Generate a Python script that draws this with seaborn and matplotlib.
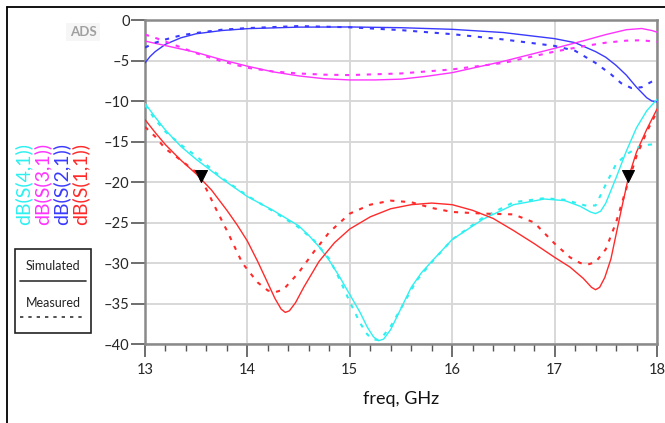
import matplotlib
matplotlib.use("Agg")
import matplotlib.pyplot as plt
from matplotlib.lines import Line2D
from matplotlib.patches import Rectangle
from matplotlib.ticker import MultipleLocator
import seaborn as sns
import pandas as pd

# ---------------- data ----------------
f_s21_sim = [13.0, 13.05, 13.1, 13.2, 13.35, 13.5, 13.75, 14.0, 14.5, 15.0, 15.5, 16.0, 16.5, 17.0,
             17.2, 17.4, 17.5, 17.6, 17.7, 17.8, 17.9, 17.95, 18.0]
s21_sim = [-5.3, -4.5, -3.9, -3.0, -2.2, -1.7, -1.3, -1.07, -0.88, -0.86, -0.95, -1.15, -1.55, -2.3,
           -2.8, -3.9, -4.6, -5.6, -6.8, -8.3, -9.6, -10.0, -10.1]

f_s21_meas = [13.0, 13.1, 13.2, 13.35, 13.5, 13.75, 14.0, 14.5, 15.0, 15.5, 16.0, 16.5, 17.0,
              17.2, 17.4, 17.55, 17.65, 17.75, 17.85, 17.95, 18.0]
s21_meas = [-3.4, -2.8, -2.4, -1.9, -1.6, -1.2, -1.0, -0.75, -0.9, -1.25, -1.75, -2.4, -3.2,
            -3.8, -5.3, -6.7, -7.8, -8.4, -8.3, -7.6, -7.3]

f_s31_sim = [13.0, 13.25, 13.5, 13.75, 14.0, 14.25, 14.5, 14.75, 15.0, 15.25, 15.5, 15.75, 16.0,
             16.5, 17.0, 17.3, 17.5, 17.7, 17.85, 17.95, 18.0]
s31_sim = [-2.6, -3.3, -4.0, -4.9, -5.7, -6.4, -6.9, -7.25, -7.4, -7.4, -7.3, -6.95, -6.5,
           -5.1, -3.5, -2.5, -1.8, -1.2, -1.05, -1.3, -1.5]

f_s31_meas = [13.0, 13.1, 13.25, 13.5, 13.75, 14.0, 14.25, 14.5, 14.75, 15.0, 15.5, 16.0, 16.5,
              17.0, 17.3, 17.5, 17.7, 17.85, 18.0]
s31_meas = [-1.8, -2.2, -2.9, -4.1, -5.1, -5.9, -6.35, -6.6, -6.75, -6.8, -6.6, -6.1, -5.3,
            -3.9, -3.2, -2.8, -2.55, -2.5, -2.7]

f_s41_sim = [13.0, 13.1, 13.2, 13.35, 13.5, 13.75, 14.0, 14.25, 14.5, 14.6, 14.7, 14.8, 14.9, 15.0,
             15.1, 15.17, 15.23, 15.28, 15.33, 15.4, 15.5, 15.6, 15.7, 15.8, 16.0, 16.3, 16.6,
             16.9, 17.1, 17.25, 17.35, 17.4, 17.45, 17.5, 17.6, 17.7, 17.8, 17.9, 18.0]
s41_sim = [-10.3, -12.0, -13.6, -15.6, -17.2, -19.6, -21.8, -23.5, -25.4, -26.6, -28.0, -29.7, -31.7, -33.9,
           -36.1, -37.9, -39.1, -39.6, -39.4, -38.2, -35.6, -33.0, -31.2, -29.8, -27.1, -24.6, -22.8,
           -22.1, -22.3, -23.0, -23.7, -23.9, -23.6, -22.6, -19.5, -16.2, -13.3, -11.2, -9.8]

f_s41_meas = [13.0, 13.1, 13.2, 13.35, 13.5, 13.75, 14.0, 14.25, 14.5, 14.65, 14.8, 14.9, 15.0,
              15.1, 15.17, 15.22, 15.27, 15.32, 15.4, 15.5, 15.65, 15.8, 16.0, 16.3, 16.6, 16.9,
              17.1, 17.3, 17.4, 17.5, 17.6, 17.7, 17.82, 17.92, 18.0]
s41_meas = [-10.5, -12.3, -13.8, -15.4, -16.8, -19.5, -21.7, -23.6, -25.6, -27.2, -29.5, -32.0, -34.8,
            -37.4, -38.8, -39.4, -39.5, -39.1, -37.8, -35.6, -32.2, -29.9, -27.1, -24.4, -22.5, -22.0,
            -22.2, -22.9, -22.9, -20.3, -17.8, -16.6, -15.7, -15.4, -15.3]

f_s11_sim = [13.0, 13.1, 13.2, 13.35, 13.5, 13.65, 13.8, 13.9, 14.0, 14.1, 14.2, 14.27, 14.33, 14.37,
             14.41, 14.47, 14.55, 14.7, 14.85, 15.0, 15.2, 15.4, 15.6, 15.8, 16.0, 16.2, 16.4, 16.6,
             16.8, 17.0, 17.15, 17.28, 17.36, 17.4, 17.44, 17.49, 17.55, 17.65, 17.72, 17.8, 17.9, 18.0]
s11_sim = [-12.3, -13.9, -15.4, -17.3, -19.0, -21.0, -23.5, -25.3, -27.3, -29.8, -32.5, -34.4, -35.7, -36.1,
           -35.9, -34.9, -33.0, -29.8, -27.5, -25.8, -24.3, -23.3, -22.8, -22.6, -22.8, -23.5, -24.5, -26.0,
           -27.6, -29.3, -30.5, -31.9, -33.0, -33.3, -33.0, -31.8, -29.5, -23.5, -19.5, -16.3, -13.5, -11.0]

f_s11_meas = [13.0, 13.1, 13.2, 13.35, 13.5, 13.6, 13.7, 13.8, 13.95, 14.1, 14.2, 14.27, 14.35,
              14.5, 14.65, 14.8, 15.0, 15.2, 15.4, 15.6, 15.8, 16.0, 16.3, 16.6, 16.8, 17.0, 17.15,
              17.25, 17.32, 17.4, 17.5, 17.6, 17.7, 17.8, 17.9, 18.0]
s11_meas = [-13.2, -14.4, -15.9, -17.3, -18.8, -20.9, -23.5, -26.0, -30.0, -32.4, -33.4, -33.6, -33.3,
            -31.2, -28.6, -26.2, -23.9, -22.8, -22.3, -22.5, -23.2, -23.7, -23.9, -24.0, -25.0, -27.6, -29.3,
            -30.0, -30.2, -29.9, -28.3, -25.0, -20.8, -16.8, -13.8, -11.3]

marker_f = [13.55, 17.72]
marker_db = [-19.2, -19.2]

trace_names = ["dB(S(4,1))", "dB(S(3,1))", "dB(S(2,1))", "dB(S(1,1))"]
trace_colors = ["#2ef0f0", "#ff33ff", "#3a3aff", "#ff2a2a"]
x_ticks = [13, 14, 15, 16, 17, 18]
y_ticks = [0, -5, -10, -15, -20, -25, -30, -35, -40]

# ---------------- figure ----------------
sns.set_style("white")
plt.rcParams["font.family"] = ["Lato", "DejaVu Sans"]

W, H = 665, 423
fig = plt.figure(figsize=(W / 100, H / 100), dpi=100)
ax = fig.add_axes([145 / W, 1 - 344 / H, (657 - 145) / W, (344 - 20) / H])

meas_dash = (0, (2.0, 3.2))
series = [
    (f_s21_sim, s21_sim, trace_colors[2], "-"),
    (f_s31_sim, s31_sim, trace_colors[1], "-"),
    (f_s41_sim, s41_sim, trace_colors[0], "-"),
    (f_s11_sim, s11_sim, trace_colors[3], "-"),
    (f_s21_meas, s21_meas, trace_colors[2], meas_dash),
    (f_s31_meas, s31_meas, trace_colors[1], meas_dash),
    (f_s41_meas, s41_meas, trace_colors[0], meas_dash),
    (f_s11_meas, s11_meas, trace_colors[3], meas_dash),
]
for fx, fy, col, ls in series:
    df = pd.DataFrame({"f": fx, "db": fy})
    lw = 1.0 if ls == "-" else 1.5
    sns.lineplot(data=df, x="f", y="db", ax=ax, color=col, linewidth=lw,
                 linestyle=ls, sort=False, estimator=None, zorder=3)

sns.scatterplot(x=marker_f, y=marker_db, ax=ax, marker="v", s=75, color="black",
                edgecolor="black", zorder=5)

ax.set_xlim(13, 18)
ax.set_ylim(-40, 0)
ax.set_xticks(x_ticks)
ax.set_yticks(y_ticks)
ax.xaxis.set_minor_locator(MultipleLocator(0.2))
ax.grid(True, which="major", color="#d6d6d6", linewidth=1.3, zorder=0)
ax.set_axisbelow(True)
for sp in ax.spines.values():
    sp.set_color("#8a8a8a")
    sp.set_linewidth(1.8)
ax.tick_params(axis="y", which="major", length=10, width=1.2, color="#555555",
               pad=1, labelsize=10.5, direction="out", left=True)
ax.tick_params(axis="x", which="major", length=9, width=1.2, color="#555555",
               pad=5, labelsize=10.5, direction="out", bottom=True)
ax.tick_params(axis="x", which="minor", length=5, width=1.0, color="#555555",
               direction="out", bottom=True)
ax.set_yticklabels([str(v) if v == 0 else "\u2013" + str(-v) for v in y_ticks])
ax.set_xticklabels([str(v) for v in x_ticks])
ax.set_xlabel("freq, GHz", fontsize=13, labelpad=10, color="#111111")
ax.set_ylabel("")

# rotated trace labels
label_x = [23, 42, 61, 80]
for name, col, px in zip(trace_names, trace_colors, label_x):
    fig.text(px / W, 1 - 184 / H, name, rotation=90, color=col, fontsize=14,
             ha="center", va="center")

# simulated / measured key box
fig.add_artist(Rectangle((15 / W, 1 - 333 / H), 76 / W, 84 / H, transform=fig.transFigure,
                         fill=False, edgecolor="#222222", linewidth=1.2))
fig.text(53 / W, 1 - 266 / H, "Simulated", fontsize=9, ha="center", va="center", color="#222222")
fig.add_artist(Line2D([20 / W, 86 / W], [1 - 281 / H, 1 - 281 / H], color="#333333",
                      linewidth=1.2, transform=fig.transFigure))
fig.text(53 / W, 1 - 303 / H, "Measured", fontsize=9, ha="center", va="center", color="#222222")
fig.add_artist(Line2D([20 / W, 86 / W], [1 - 317 / H, 1 - 317 / H], color="#333333",
                      linewidth=1.2, linestyle=(0, (2, 3)), transform=fig.transFigure))

# ADS tag
fig.text(83 / W, 1 - 32 / H, "ADS", fontsize=9.5, ha="center", va="center", color="#a0a0a0",
         fontweight="bold",
         bbox=dict(boxstyle="square,pad=0.25", facecolor="#f6f6f6", edgecolor="none"))

# outer frame (left and top edges)
fig.add_artist(Line2D([7 / W, 7 / W], [0, 1 - 7 / H], color="black", linewidth=1.3,
                      transform=fig.transFigure))
fig.add_artist(Line2D([7 / W, 1], [1 - 7 / H, 1 - 7 / H], color="black", linewidth=1.3,
                      transform=fig.transFigure))

fig.savefig("out.png", dpi=100)
